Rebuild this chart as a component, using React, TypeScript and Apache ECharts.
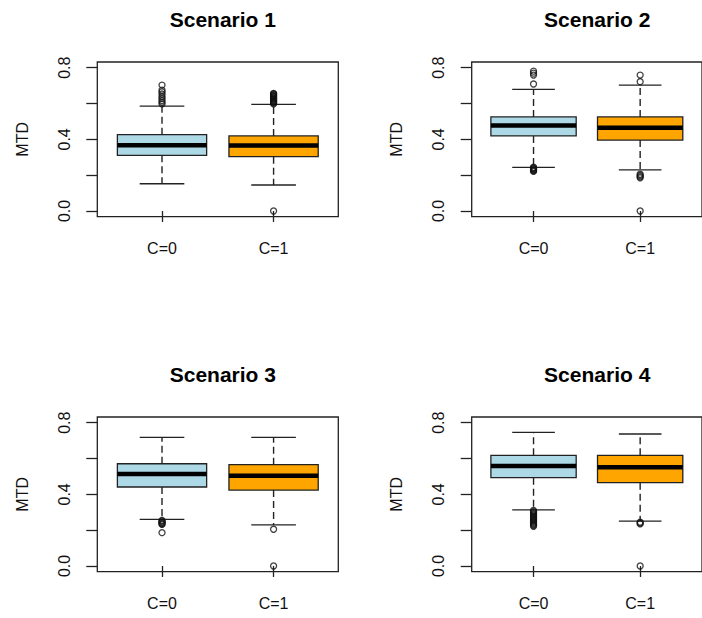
import React, { useEffect, useRef } from "react";
import * as echarts from "echarts";

// ---------- data ----------
const categories = ["C=0", "C=1"];
const titles = ["Scenario 1", "Scenario 2", "Scenario 3", "Scenario 4"];
const yTickValues = [0, 0.2, 0.4, 0.6, 0.8];
const yLabelValues = [0, 0.4, 0.8];
const boxColors = ["#ADD8E6", "#FFA500"];

// [lowerWhisker, Q1, median, Q3, upperWhisker] for C=0 and C=1
const s1Stats = [
  [0.152, 0.311, 0.367, 0.426, 0.586],
  [0.145, 0.303, 0.365, 0.419, 0.595],
];
const s2Stats = [
  [0.244, 0.419, 0.478, 0.525, 0.679],
  [0.229, 0.396, 0.465, 0.525, 0.703],
];
const s3Stats = [
  [0.260, 0.441, 0.513, 0.571, 0.718],
  [0.229, 0.424, 0.504, 0.566, 0.718],
];
const s4Stats = [
  [0.313, 0.493, 0.558, 0.618, 0.746],
  [0.251, 0.465, 0.551, 0.618, 0.737],
];

// outliers for C=0 and C=1
const s1Out = [
  [0.598, 0.607, 0.617, 0.629, 0.640, 0.653, 0.665, 0.675, 0.703],
  [0.598, 0.602, 0.606, 0.610, 0.614, 0.618, 0.622, 0.626, 0.630, 0.634, 0.638, 0.642, 0.646, 0.650, 0.654, 0.657, 0.0],
];
const s2Out = [
  [0.709, 0.759, 0.770, 0.781, 0.244, 0.240, 0.236, 0.232, 0.228, 0.225, 0.221],
  [0.722, 0.759, 0.205, 0.198, 0.191, 0.185, 0.0],
];
const s3Out = [
  [0.255, 0.250, 0.245, 0.240, 0.236, 0.232, 0.186],
  [0.205, 0.0],
];
const s4Out = [
  [0.310, 0.304, 0.298, 0.292, 0.286, 0.280, 0.274, 0.268, 0.262, 0.256, 0.250, 0.244, 0.238, 0.232, 0.227, 0.222],
  [0.245, 0.240, 0.235, 0.0],
];

const allStats = [s1Stats, s2Stats, s3Stats, s4Stats];
const allOut = [s1Out, s2Out, s3Out, s4Out];

// ---------- layout ----------
const FONT = "'Liberation Sans', Arial, Helvetica, sans-serif";
const gridPos = [
  { left: 97.3, top: 62 },
  { left: 471.7, top: 62 },
  { left: 97.3, top: 417 },
  { left: 471.7, top: 417 },
];
const GRID_W = 241;
const GRID_H = 154.7;

export default function App() {
  const ref = useRef<HTMLDivElement>(null);

  useEffect(() => {
    document.body.style.margin = "0";
    if (!ref.current) return;
    const chart = echarts.init(ref.current, null, { renderer: "svg" });

    const grids = gridPos.map((g) => ({
      left: g.left,
      top: g.top,
      width: GRID_W,
      height: GRID_H,
      show: true,
      borderColor: "#222",
      borderWidth: 1.3,
      backgroundColor: "transparent",
    }));

    const xAxes = gridPos.map((_, i) => ({
      type: "value",
      gridIndex: i,
      min: 0.42,
      max: 2.58,
      axisLine: { show: false },
      splitLine: { show: false },
      axisTick: {
        show: true,
        customValues: [1, 2],
        length: 11,
        lineStyle: { color: "#222", width: 1.3 },
      },
      axisLabel: {
        show: true,
        customValues: [1, 2],
        formatter: (v: number) => categories[Math.round(v) - 1] ?? "",
        margin: 24,
        fontSize: 16,
        fontFamily: FONT,
        color: "#111",
      },
    }));

    const yAxes = gridPos.map((_, i) => ({
      type: "value",
      gridIndex: i,
      min: -0.032,
      max: 0.832,
      name: "MTD",
      nameLocation: "middle",
      nameRotate: 90,
      nameGap: 67,
      nameTextStyle: { fontSize: 16, fontFamily: FONT, color: "#111" },
      axisLine: { show: false },
      splitLine: { show: false },
      axisTick: {
        show: true,
        customValues: yTickValues,
        length: 11,
        lineStyle: { color: "#222", width: 1.3 },
      },
      axisLabel: {
        show: true,
        customValues: yLabelValues,
        formatter: (v: number) => v.toFixed(1),
        rotate: 90,
        margin: 25,
        fontSize: 16,
        fontFamily: FONT,
        color: "#111",
      },
    }));

    const titleArr = titles.map((t, i) => ({
      text: t,
      left: gridPos[i].left + GRID_W / 2,
      top: gridPos[i].top - 58,
      textAlign: "center",
      textStyle: { fontSize: 21, fontWeight: "bold", fontFamily: FONT, color: "#000" },
    }));

    const series: any[] = [];
    allStats.forEach((stats, i) => {
      const data = stats.map((s, k) => [k + 1, ...s]);
      series.push({
        type: "custom",
        xAxisIndex: i,
        yAxisIndex: i,
        data,
        encode: { x: 0, y: [1, 2, 3, 4, 5] },
        z: 2,
        renderItem: (params: any, api: any) => {
          const x = api.value(0);
          const lo = api.value(1);
          const q1 = api.value(2);
          const med = api.value(3);
          const q3 = api.value(4);
          const hi = api.value(5);
          const p = (xx: number, yy: number) => api.coord([xx, yy]);
          const color = boxColors[params.dataIndex];
          const lineStyle = { stroke: "#222", lineWidth: 1.3 };
          const dashStyle = { stroke: "#222", lineWidth: 1.4, lineDash: [7, 4] };
          const a = p(x, q3);
          const b = p(x, hi);
          const c = p(x, q1);
          const d = p(x, lo);
          const tl = p(x - 0.4, q3);
          const br = p(x + 0.4, q1);
          const ml = p(x - 0.4, med);
          const mr = p(x + 0.4, med);
          const capHiL = p(x - 0.2, hi);
          const capHiR = p(x + 0.2, hi);
          const capLoL = p(x - 0.2, lo);
          const capLoR = p(x + 0.2, lo);
          return {
            type: "group",
            children: [
              { type: "line", shape: { x1: a[0], y1: a[1], x2: b[0], y2: b[1] }, style: dashStyle },
              { type: "line", shape: { x1: c[0], y1: c[1], x2: d[0], y2: d[1] }, style: dashStyle },
              { type: "line", shape: { x1: capHiL[0], y1: capHiL[1], x2: capHiR[0], y2: capHiR[1] }, style: lineStyle },
              { type: "line", shape: { x1: capLoL[0], y1: capLoL[1], x2: capLoR[0], y2: capLoR[1] }, style: lineStyle },
              {
                type: "rect",
                shape: { x: tl[0], y: tl[1], width: br[0] - tl[0], height: br[1] - tl[1] },
                style: { fill: color, stroke: "#222", lineWidth: 1.3 },
              },
              { type: "line", shape: { x1: ml[0], y1: ml[1], x2: mr[0], y2: mr[1] }, style: { stroke: "#000", lineWidth: 4.5 } },
            ],
          };
        },
      });
    });

    allOut.forEach((outs, i) => {
      const data: number[][] = [];
      outs.forEach((arr, k) => arr.forEach((v) => data.push([k + 1, v])));
      series.push({
        type: "scatter",
        xAxisIndex: i,
        yAxisIndex: i,
        data,
        symbol: "circle",
        symbolSize: 6,
        z: 3,
        itemStyle: { color: "transparent", borderColor: "#111", borderWidth: 1.3 },
        emphasis: { disabled: true },
      });
    });

    chart.setOption({
      animation: false,
      backgroundColor: "#fff",
      title: titleArr,
      grid: grids,
      xAxis: xAxes,
      yAxis: yAxes,
      series,
      tooltip: { show: false },
    });

    return () => chart.dispose();
  }, []);

  return <div ref={ref} style={{ width: 702, height: 618 }} />;
}
